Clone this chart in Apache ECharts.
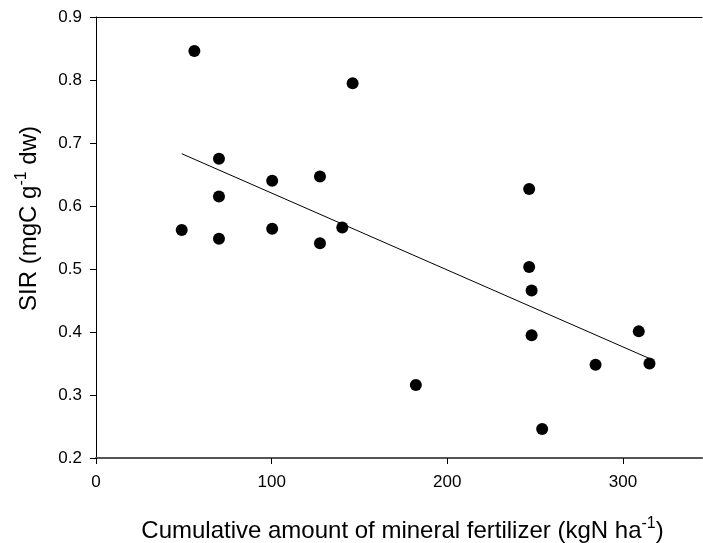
<!DOCTYPE html>
<html>
<head>
<meta charset="utf-8">
<script src="https://cdn.jsdelivr.net/npm/echarts@6/dist/echarts.min.js"></script>
<style>
  html, body { margin: 0; padding: 0; background: #fff; }
  #main { width: 703px; height: 543px; }
</style>
</head>
<body>
<div id="main"></div>
<script>
// fertilizer amount (kgN/ha) and SIR (mgC/g dw)
var fertX = [56, 48.8, 70, 70, 70, 100.3, 100.3, 127.5, 127.5, 140.2, 146.1,
  246.6, 246.6, 248, 248, 309, 315.1, 284.4, 182.1, 254]
var sirY = [0.846, 0.562, 0.675, 0.615, 0.548, 0.640, 0.564, 0.647, 0.541, 0.566, 0.795,
  0.627, 0.503, 0.466, 0.395, 0.401, 0.350, 0.348, 0.316, 0.246]
// regression line ends
var trendX = [48.8, 315]
var trendY = [0.683, 0.358]
var xTicks = [0, 100, 200, 300]
var yTicks = [0.2, 0.3, 0.4, 0.5, 0.6, 0.7, 0.8, 0.9]

var points = fertX.map(function (x, i) {
  return [x, sirY[i]]
})
var trend = trendX.map(function (x, i) {
  return [x, trendY[i]]
})

var supStyle = { fontSize: 16, fontFamily: 'Liberation Sans', color: '#000', padding: [0, 0, 14, 0] }

var myChart = echarts.init(document.getElementById('main'))
myChart.setOption({
  animation: false,
  grid: {
    left: 96,
    right: 1,
    top: 17,
    bottom: 85,
    outerBoundsMode: 'none',
    containLabel: false,
  },
  xAxis: [
    {
      type: 'value',
      min: 0,
      max: 345,
      interval: 100,
      name: 'Cumulative amount of mineral fertilizer (kgN ha{sup|-1})',
      nameLocation: 'middle',
      nameGap: 58,
      nameTextStyle: {
        color: '#000',
        fontFamily: 'Liberation Sans',
        fontSize: 24,
        padding: [0, 0, 0, 7],
        rich: { sup: supStyle },
      },
      axisLine: { show: true, onZero: false, lineStyle: { color: '#555', width: 2 } },
      axisTick: { show: true, length: 6, customValues: xTicks, lineStyle: { color: '#000' } },
      axisLabel: {
        color: '#000',
        fontFamily: 'Liberation Sans',
        fontSize: 17,
        margin: 16,
        customValues: xTicks,
      },
      splitLine: { show: false },
    },
    {
      // top border line
      type: 'value',
      position: 'top',
      min: 0,
      max: 345,
      axisLine: { show: true, lineStyle: { color: '#000', width: 1 } },
      axisTick: { show: false },
      axisLabel: { show: false },
      splitLine: { show: false },
    },
  ],
  yAxis: {
    type: 'value',
    min: 0.2,
    max: 0.9,
    interval: 0.1,
    name: 'SIR (mgC g{sup|-1} dw)',
    nameLocation: 'middle',
    nameGap: 52,
    nameTextStyle: {
      color: '#000',
      fontFamily: 'Liberation Sans',
      fontSize: 24,
      padding: [0, 0, 0, 38],
      rich: { sup: supStyle },
    },
    axisLine: { show: true, lineStyle: { color: '#000', width: 1 } },
    axisTick: { show: true, length: 6, customValues: yTicks, lineStyle: { color: '#000' } },
    axisLabel: {
      color: '#000',
      fontFamily: 'Liberation Sans',
      fontSize: 17,
      margin: 14,
      customValues: yTicks,
      formatter: function (v) {
        return v.toFixed(1)
      },
    },
    splitLine: { show: false },
  },
  series: [
    {
      type: 'line',
      data: trend,
      symbol: 'none',
      lineStyle: { color: '#000', width: 1 },
      z: 2,
    },
    {
      type: 'scatter',
      data: points,
      symbol: 'circle',
      symbolSize: 12,
      itemStyle: { color: '#000', opacity: 1 },
      z: 3,
    },
  ],
})
</script>
</body>
</html>
